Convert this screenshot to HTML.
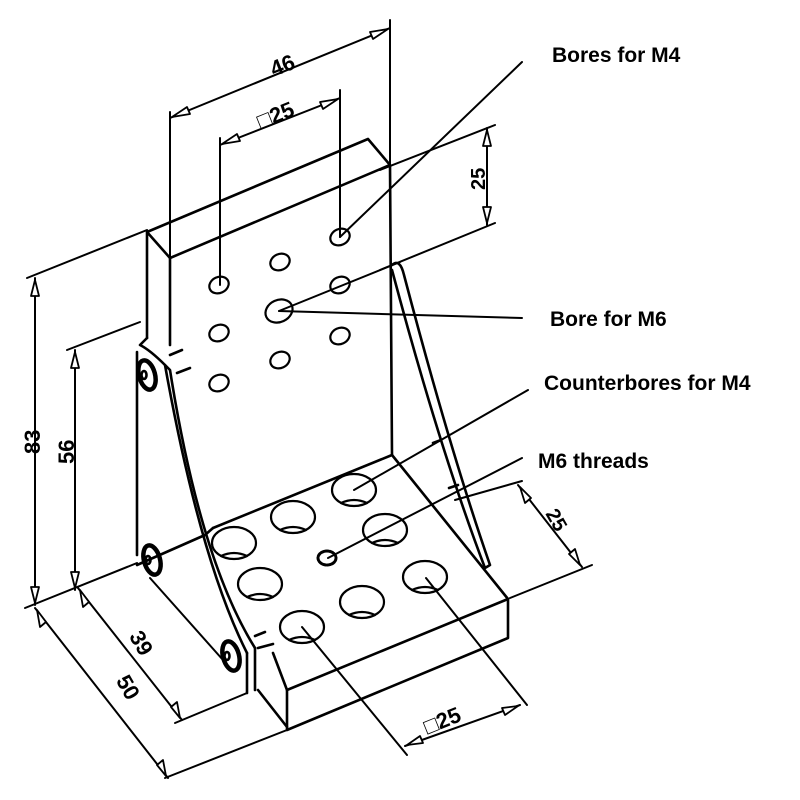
<!DOCTYPE html>
<html><head><meta charset="utf-8"><style>
html,body{margin:0;padding:0;background:#fff}
svg{display:block}
text{font-family:"Liberation Sans",sans-serif;font-weight:bold;fill:#000}
</style></head><body>
<svg width="800" height="800" viewBox="0 0 800 800" xmlns="http://www.w3.org/2000/svg">
<g fill="none" stroke="#000" stroke-width="2.6" stroke-linecap="round" stroke-linejoin="round">
<!-- vertical plate -->
<polyline points="147,338 147,232 368,139 390,165 170,258 147,232"/>
<line x1="170" y1="258" x2="170" y2="345"/>
<line x1="390" y1="165" x2="392" y2="455"/>
<!-- base plate -->
<line x1="213" y1="528" x2="392" y2="455"/>
<line x1="392" y1="455" x2="508" y2="599"/>
<polyline points="508,599 287,690 287,730 508,638 508,599"/>
<line x1="258" y1="690" x2="287" y2="727"/>
<line x1="273" y1="653" x2="287" y2="690"/>
<line x1="247" y1="653" x2="247" y2="693"/>
<line x1="255" y1="648" x2="255" y2="690"/>
<!-- left gusset -->
<path d="M147,338 L140,345 Q150,350 165,365 Q200,560 247,653"/>
<path d="M165,365 L170,370 Q200,560 255,648"/>
<line x1="137" y1="352" x2="137" y2="555"/>
<line x1="137" y1="565" x2="205" y2="535"/>
<line x1="170" y1="355" x2="182" y2="350"/>
<line x1="177" y1="373" x2="190" y2="368"/>
<line x1="255" y1="636" x2="265" y2="632"/>
<line x1="258" y1="648" x2="273" y2="644"/>
<line x1="205" y1="535" x2="213" y2="528"/>
<!-- washers -->
<g stroke-width="4.5">
<ellipse cx="147" cy="375" rx="8" ry="15" transform="rotate(-15 147 375)"/>
<ellipse cx="152" cy="560" rx="8" ry="15" transform="rotate(-15 152 560)"/>
<ellipse cx="231" cy="656" rx="8" ry="15" transform="rotate(-15 231 656)"/>
</g>
<ellipse cx="144" cy="375" rx="2.5" ry="4"/>
<ellipse cx="148" cy="560" rx="2.5" ry="4"/>
<ellipse cx="227" cy="656" rx="2.5" ry="4"/>
<!-- right gusset -->
<path d="M392,265 Q400,258 404,275 Q450,450 490,565 L485,568 Q440,450 392,270"/>
<line x1="433" y1="443" x2="441" y2="440"/>
<line x1="449" y1="488" x2="458" y2="485"/>
<!-- plate holes -->
<g stroke-width="2.2">
<ellipse cx="219" cy="285" rx="10" ry="8" transform="rotate(-25 219 285)"/>
<ellipse cx="280" cy="262" rx="10" ry="8" transform="rotate(-25 280 262)"/>
<ellipse cx="340" cy="237" rx="10" ry="8" transform="rotate(-25 340 237)"/>
<ellipse cx="219" cy="333" rx="10" ry="8" transform="rotate(-25 219 333)"/>
<ellipse cx="279" cy="311" rx="14" ry="11" transform="rotate(-25 279 311)"/>
<ellipse cx="340" cy="285" rx="10" ry="8" transform="rotate(-25 340 285)"/>
<ellipse cx="219" cy="383" rx="10" ry="8" transform="rotate(-25 219 383)"/>
<ellipse cx="280" cy="360" rx="10" ry="8" transform="rotate(-25 280 360)"/>
<ellipse cx="340" cy="336" rx="10" ry="8" transform="rotate(-25 340 336)"/>
</g>
<!-- base counterbores -->
<g stroke-width="2.2">
<ellipse cx="234" cy="543" rx="22" ry="16"/>
<ellipse cx="293" cy="517" rx="22" ry="16"/>
<ellipse cx="354" cy="490" rx="22" ry="16"/>
<ellipse cx="260" cy="584" rx="22" ry="16"/>
<ellipse cx="385" cy="530" rx="22" ry="16"/>
<ellipse cx="302" cy="627" rx="22" ry="16"/>
<ellipse cx="362" cy="602" rx="22" ry="16"/>
<ellipse cx="425" cy="577" rx="22" ry="16"/>
<ellipse cx="327" cy="558" rx="9" ry="7" stroke-width="3" stroke-dasharray="3 1.5"/>
<path d="M221,556 Q234,550 247,556 M280,530 Q293,524 306,530 M341,503 Q354,497 367,503 M247,597 Q260,591 273,597 M372,543 Q385,537 398,543 M289,640 Q302,634 315,640 M349,615 Q362,609 375,615 M412,590 Q425,584 438,590"/>
</g>
<!-- dims -->
<g stroke-width="2">
<line x1="170" y1="112" x2="170" y2="258"/>
<line x1="390" y1="20" x2="390" y2="165"/>
<line x1="170" y1="118" x2="390" y2="28"/>
<line x1="220" y1="138" x2="220" y2="285"/>
<line x1="340" y1="90" x2="340" y2="237"/>
<line x1="220" y1="145" x2="340" y2="98"/>
<line x1="380" y1="170" x2="495" y2="125"/>
<line x1="380" y1="270" x2="495" y2="223"/>
<line x1="487" y1="128" x2="487" y2="225"/>
<line x1="27" y1="278" x2="147" y2="230"/>
<line x1="35" y1="278" x2="35" y2="605"/>
<line x1="25" y1="608" x2="137" y2="563"/>
<line x1="67" y1="350" x2="140" y2="322"/>
<line x1="75" y1="350" x2="75" y2="590"/>
<line x1="35" y1="608" x2="168" y2="778"/>
<line x1="78" y1="588" x2="182" y2="720"/>
<line x1="150" y1="578" x2="223" y2="660"/>
<line x1="175" y1="723" x2="247" y2="693"/>
<line x1="165" y1="778" x2="287" y2="730"/>
<line x1="455" y1="500" x2="522" y2="481"/>
<line x1="510" y1="598" x2="592" y2="565"/>
<line x1="518" y1="485" x2="582" y2="567"/>
<line x1="302" y1="627" x2="407" y2="755"/>
<line x1="426" y1="578" x2="527" y2="705"/>
<line x1="405" y1="746" x2="520" y2="705"/>
<!-- leaders -->
<line x1="340" y1="237" x2="522" y2="62"/>
<line x1="279" y1="311" x2="400" y2="262"/>
<line x1="279" y1="311" x2="522" y2="318"/>
<line x1="354" y1="490" x2="528" y2="390"/>
<line x1="328" y1="558" x2="522" y2="458"/>
</g>
<!-- arrowheads -->
<g fill="#fff" stroke-width="1.8">
<polygon points="172,117 190,114 187,107"/>
<polygon points="388,29 370,32 373,39"/>
<polygon points="222,144 240,141 237,134"/>
<polygon points="338,99 320,102 323,109"/>
<polygon points="487,130 483,146 491,146"/>
<polygon points="487,223 483,207 491,207"/>
<polygon points="35,280 31,296 39,296"/>
<polygon points="35,603 31,587 39,587"/>
<polygon points="75,352 71,368 79,368"/>
<polygon points="75,588 71,572 79,572"/>
<polygon points="37,610 40,627 46,622"/>
<polygon points="166,776 163,760 157,765"/>
<polygon points="80,590 83,607 89,602"/>
<polygon points="180,718 177,702 171,707"/>
<polygon points="520,487 525,503 531,498"/>
<polygon points="580,565 575,549 569,554"/>
<polygon points="407,745 423,743 420,736"/>
<polygon points="518,706 502,708 505,715"/>
</g>
</g>
<!-- labels -->
<text x="552" y="62" font-size="21">Bores for M4</text>
<text x="550" y="326" font-size="21">Bore for M6</text>
<text x="544" y="390" font-size="21">Counterbores for M4</text>
<text x="538" y="468" font-size="21">M6 threads</text>
<text x="270" y="73" font-size="22" transform="rotate(-22 282 65)">46</text>
<text x="256" y="120" font-size="22" transform="rotate(-22 282 112)">□25</text>
<text x="466" y="185" font-size="20" transform="rotate(-90 478 178)">25</text>
<text x="28" y="462" font-size="22" transform="rotate(-90 30 452)">83</text>
<text x="62" y="472" font-size="22" transform="rotate(-90 64 462)">56</text>
<text x="118" y="690" font-size="22" transform="rotate(60 125 683)">50</text>
<text x="131" y="648" font-size="22" transform="rotate(60 140 640)">39</text>
<text x="546" y="528" font-size="20" transform="rotate(60 558 520)">25</text>
<text x="423" y="725" font-size="22" transform="rotate(-22 450 718)">□25</text>
</svg>
</body></html>
